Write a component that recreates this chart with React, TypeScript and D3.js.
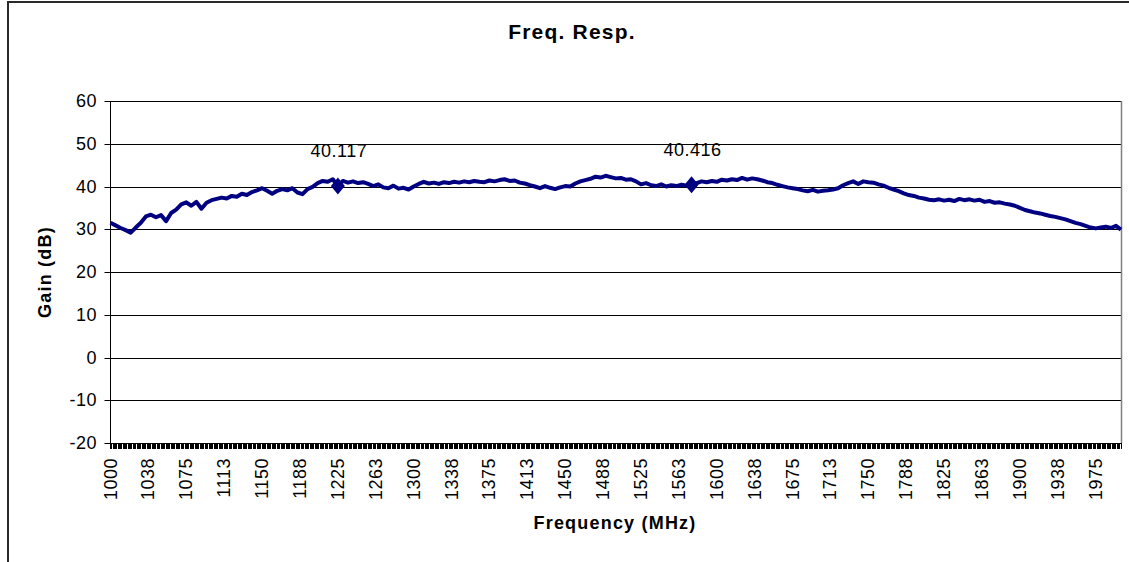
import React from "react";
import * as d3 from "d3";

// ---- data ----
const title = "Freq. Resp.";
const xTitle = "Frequency (MHz)";
const yTitle = "Gain (dB)";
const freqStart = 1000;
const freqEnd = 2000;
const categoryStep = 1.25; // MHz per category
const labelEvery = 30; // categories between tick labels
const yTicks = [-20, -10, 0, 10, 20, 30, 40, 50, 60];
const sampleStep = 5; // MHz between gain samples below
// gain (dB) read at 1000, 1005, ... 2000 MHz
const gain = [
  31.5, 30.9, 30.3, 29.8, 29.2, 30.4, 31.5, 33.0, 33.4, 32.8,
  33.3, 31.9, 33.8, 34.6, 35.8, 36.3, 35.5, 36.4, 34.8, 36.2,
  36.8, 37.1, 37.4, 37.2, 37.8, 37.6, 38.3, 38.0, 38.7, 39.1,
  39.6, 39.0, 38.3, 39.0, 39.4, 39.1, 39.6, 38.6, 38.2, 39.4,
  39.9, 40.8, 41.3, 41.1, 41.7, 40.117, 41.3, 40.9, 41.2, 40.8,
  41.0, 40.6, 40.1, 40.5, 39.8, 39.6, 40.2, 39.5, 39.7, 39.3,
  40.0, 40.6, 41.1, 40.7, 40.9, 40.6, 41.0, 40.8, 41.1, 40.9,
  41.2, 41.0, 41.3, 41.1, 41.0, 41.4, 41.2, 41.5, 41.7, 41.3,
  41.4, 40.9, 40.7, 40.3, 40.0, 39.6, 40.1, 39.7, 39.4, 39.8,
  40.1, 40.0, 40.7, 41.2, 41.5, 41.8, 42.3, 42.1, 42.5, 42.2,
  41.9, 42.0, 41.6, 41.7, 41.2, 40.5, 40.8, 40.3, 40.1, 40.5,
  40.0, 40.3, 40.1, 40.4, 40.2, 40.416, 40.8, 41.2, 41.0, 41.3,
  41.1, 41.6, 41.4, 41.7, 41.5, 42.0, 41.6, 41.9, 41.7, 41.4,
  41.0, 40.8, 40.4, 40.1, 39.8, 39.6, 39.4, 39.1, 38.9, 39.2,
  38.8, 39.0, 39.1, 39.3, 39.6, 40.3, 40.8, 41.2, 40.6, 41.2,
  41.0, 40.9, 40.5, 40.2, 39.7, 39.3, 38.9, 38.4, 38.0, 37.8,
  37.4, 37.2, 36.9, 36.8, 37.0, 36.7, 36.9, 36.6, 37.1, 36.8,
  37.0, 36.7, 36.9, 36.4, 36.6, 36.2, 36.3, 36.0, 35.8, 35.5,
  35.0, 34.5, 34.2, 33.9, 33.7, 33.4, 33.1, 32.9, 32.6, 32.3,
  31.9, 31.5, 31.2, 30.8, 30.4, 30.2, 30.4, 30.6, 30.3, 30.8,
  29.9,
];
const markerFreqs = [1225, 1575];
const markerValues = [40.117, 40.416];
const markerLabels = ["40.117", "40.416"];

const FONT = "'Liberation Sans', Arial, Helvetica, sans-serif";

export default function App() {
  const W = 1129;
  const H = 562;
  const left = 110.5;
  const right = 1121;
  const top = 101;
  const bottom = 443;

  const x = d3.scaleLinear().domain([freqStart, freqEnd]).range([left, right]);
  const y = d3.scaleLinear().domain([-20, 60]).range([bottom, top]);

  const nCat = Math.round((freqEnd - freqStart) / categoryStep) + 1;
  const categories = d3.range(nCat).map((i) => freqStart + i * categoryStep);
  const labelCats = categories.filter((_, i) => i % labelEvery === 0);

  const pts: [number, number][] = gain.map((g, i) => [freqStart + i * sampleStep, g]);
  const line = d3
    .line<[number, number]>()
    .x((d) => x(d[0]))
    .y((d) => y(d[1]));

  return (
    <svg
      width={W}
      height={H}
      style={{ position: "absolute", left: 0, top: 0, background: "#fff" }}
      fontFamily={FONT}
    >
      <rect x={0} y={0} width={W} height={H} fill="#fff" />
      {/* chart area border */}
      <rect x={8} y={2} width={1200} height={700} fill="none" stroke="#2a2a2a" strokeWidth={2} />

      {/* gridlines */}
      {yTicks.map((t) => (
        <line
          key={"g" + t}
          x1={left}
          x2={right}
          y1={Math.round(y(t)) + 0.5}
          y2={Math.round(y(t)) + 0.5}
          stroke="#000"
          strokeWidth={1}
        />
      ))}
      {/* plot right border */}
      <line x1={right + 0.5} x2={right + 0.5} y1={top} y2={bottom} stroke="#808080" strokeWidth={1.5} />

      {/* y axis */}
      <line x1={left} x2={left} y1={top} y2={Math.round(y(-20)) + 1} stroke="#000" strokeWidth={1} />
      {yTicks.map((t) => (
        <g key={"yt" + t}>
          <line
            x1={left - 6}
            x2={left}
            y1={Math.round(y(t)) + 0.5}
            y2={Math.round(y(t)) + 0.5}
            stroke="#000"
          />
          <text
            x={97}
            y={y(t)}
            textAnchor="end"
            dominantBaseline="central"
            fontSize={18}
            letterSpacing={0.5}
            fill="#000"
          >
            {t}
          </text>
        </g>
      ))}

      {/* x axis ticks */}
      <g shapeRendering="crispEdges">
        {categories.map((c, i) => (
          <line key={"xt" + i} x1={x(c)} x2={x(c)} y1={bottom} y2={bottom + 6} stroke="#000" strokeWidth={1} />
        ))}
      </g>
      {labelCats.map((c) => (
        <text
          key={"xl" + c}
          transform={`translate(${x(c)},${458}) rotate(-90)`}
          textAnchor="end"
          dominantBaseline="central"
          fontSize={18}
          letterSpacing={0.5}
          fill="#000"
        >
          {Math.round(c)}
        </text>
      ))}

      {/* series */}
      <path d={line(pts) || ""} fill="none" stroke="#000080" strokeWidth={4} strokeLinejoin="round" />

      {/* markers */}
      {markerFreqs.map((f, i) => {
        const mx = x(f);
        const my = y(markerValues[i]);
        return (
          <g key={"m" + i}>
            <path
              d={`M${mx},${my - 8.5} L${mx + 7},${my} L${mx},${my + 8.5} L${mx - 7},${my} Z`}
              fill="#000080"
            />
            <text x={mx + 1} y={my - 29} textAnchor="middle" fontSize={18} letterSpacing={0.5} fill="#000">
              {markerLabels[i]}
            </text>
          </g>
        );
      })}

      {/* titles */}
      <text x={572} y={39} textAnchor="middle" fontSize={21} fontWeight="bold" letterSpacing={1.2} fill="#000">
        {title}
      </text>
      <text x={615} y={529} textAnchor="middle" fontSize={18} fontWeight="bold" letterSpacing={1.2} fill="#000">
        {xTitle}
      </text>
      <text
        transform={`translate(45,272) rotate(-90)`}
        textAnchor="middle"
        dominantBaseline="central"
        fontSize={18}
        fontWeight="bold"
        letterSpacing={1.2}
        fill="#000"
      >
        {yTitle}
      </text>
    </svg>
  );
}
